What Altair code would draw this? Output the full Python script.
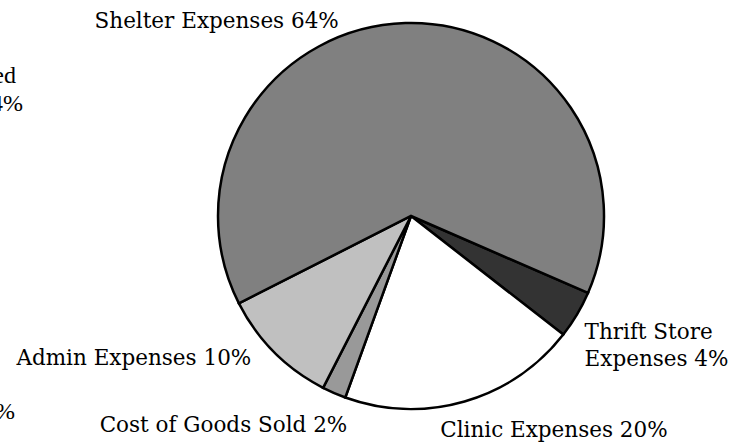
import math
import altair as alt
import pandas as pd

# ---- data ----
categories = ["Thrift Store Expenses", "Clinic Expenses", "Cost of Goods Sold",
              "Admin Expenses", "Shelter Expenses"]
values = [4, 20, 2, 10, 64]
labels = ["Thrift Store\nExpenses 4%", "Clinic Expenses 20%", "Cost of Goods Sold 2%",
          "Admin Expenses 10%", "Shelter Expenses 64%"]
colors = ["#333333", "#ffffff", "#999999", "#c0c0c0", "#808080"]

# clipped fragments of neighbouring labels visible at the left edge
fragments = ["ed", "4%", "%"]

df = pd.DataFrame({
    "idx": list(range(len(categories))),
    "cat": categories,
    "value": values,
    "label": labels,
})

W, H = 746, 442
CX, CY, R = 411, 216, 193
start = math.radians(113.5)
theta_scale = alt.Scale(domain=[0, sum(values)], range=[start, start + 2 * math.pi])
FONT = "DejaVu Serif"

pie = alt.Chart(df).mark_arc(radius=R, stroke="black", strokeWidth=2.5).encode(
    theta=alt.Theta("value:Q", stack=True, scale=theta_scale),
    color=alt.Color("cat:N", scale=alt.Scale(domain=categories, range=colors), legend=None),
    order=alt.Order("idx:Q"),
    x=alt.value(CX),
    y=alt.value(CY),
)

base_lbl = alt.Chart(df).transform_window(
    cum="sum(value)", sort=[alt.SortField("idx")]
).transform_calculate(mid="datum.cum - datum.value / 2")

label_style = {
    "Thrift Store Expenses": dict(align="left", dx=-7, dy=16),
    "Clinic Expenses": dict(align="left", dx=-29, dy=19),
    "Cost of Goods Sold": dict(align="right", dx=20, dy=23),
    "Admin Expenses": dict(align="right", dx=-11, dy=1),
    "Shelter Expenses": dict(align="right", dx=-66, dy=22),
}

label_layers = []
for cat in categories:
    st = label_style[cat]
    label_layers.append(
        base_lbl.transform_filter(alt.datum.cat == cat).mark_text(
            font=FONT, fontSize=21.5, color="black", baseline="alphabetic",
            lineBreak="\n", lineHeight=27, **st
        ).encode(
            theta=alt.Theta("mid:Q", scale=theta_scale),
            radius=alt.value(210),
            x=alt.value(CX),
            y=alt.value(CY),
            text="label:N",
        )
    )

frag_df = pd.DataFrame({"t": fragments})
frag_pos = {"ed": (16, 83), "4%": (23, 111), "%": (15, 419)}
frag_layers = []
for f in fragments:
    fx, fy = frag_pos[f]
    frag_layers.append(
        alt.Chart(frag_df).transform_filter(alt.datum.t == f).mark_text(
            font="Liberation Serif", fontSize=24, align="right", baseline="alphabetic",
            color="black"
        ).encode(x=alt.value(fx), y=alt.value(fy), text="t:N")
    )

chart = alt.layer(pie, *label_layers, *frag_layers).properties(
    width=W, height=H, padding=0,
    autosize=alt.AutoSizeParams(type="none"),
).configure_view(stroke=None)

chart.save("out.html", embed_options={"renderer": "svg", "actions": False})
